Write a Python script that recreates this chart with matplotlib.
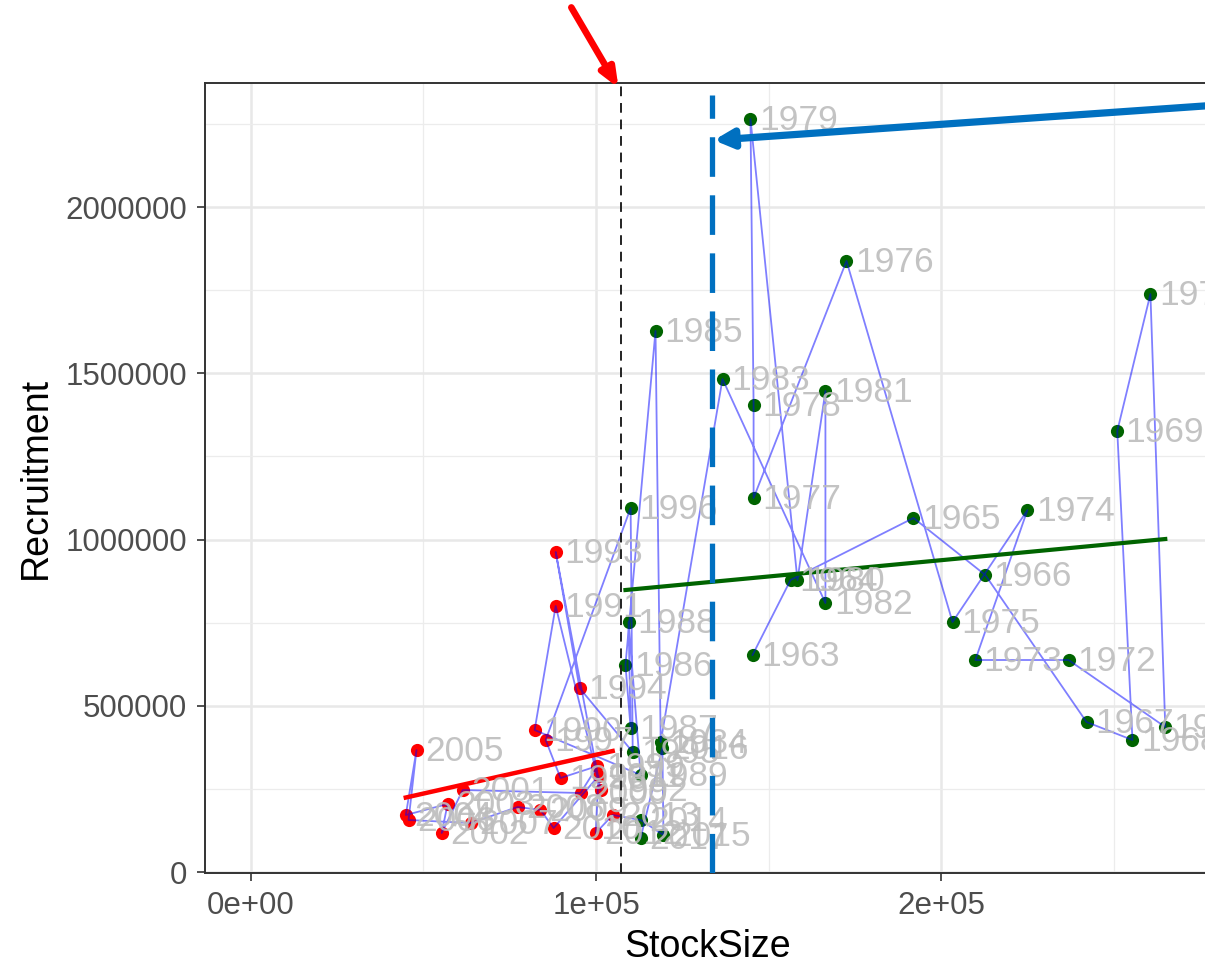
import numpy as np
import matplotlib.pyplot as plt
from matplotlib.ticker import FixedLocator, FuncFormatter

plt.rcParams['font.family'] = ['Liberation Sans', 'DejaVu Sans']

#%% Data: stock size and recruitment per year
years = list(range(1963, 2018))
stock = [145300, 156300, 191900, 212700, 242000, 255300, 250900, 260500, 264800, 236800,
         209800, 224900, 203200, 172500, 145600, 145600, 144700, 158300, 166400, 166400,
         136600, 118700, 117200, 108500, 110000, 109400, 112900, 82200, 88300, 101300,
         88300, 95200, 110600, 110000, 85400, 89700, 100400, 95500, 61400, 55300,
         57000, 44900, 48000, 45700, 63700, 77300, 83900, 87700, 100700, 99900,
         104800, 112900, 119500, 119200, 112900]
recruit = [652600, 878200, 1064700, 893200, 451100, 397000, 1326300, 1738300, 436100, 637600,
           637600, 1088700, 751900, 1837600, 1124800, 1404500, 2264600, 878200, 1446600, 809000,
           1482700, 391000, 1627100, 622600, 433100, 751900, 291700, 427100, 800000, 246600,
           962400, 553400, 360900, 1094700, 397000, 282700, 318800, 237600, 246600, 117300,
           204500, 171400, 366900, 156400, 147400, 195500, 186500, 132300, 288700, 117300,
           171400, 156400, 111300, 372900, 102300]

# reference points and fitted lines (intercept, slope)
blim = 107100
bpa = 133700
fit_low = (119100, 2.336)
fit_high = (741600, 0.9815)

stock = np.array(stock)
recruit = np.array(recruit)
high = stock > blim
low = ~high

#%% Figure
fig = plt.figure(figsize=(12.05, 9.69), dpi=100)
ax = fig.add_axes([205 / 1205, 96 / 969, 1006 / 1205, 790 / 969])

ax.set_xlim(-13240, 278040)
ax.set_ylim(-3000, 2373000)

ax.xaxis.set_major_locator(FixedLocator([0, 1e5, 2e5, 3e5]))
ax.xaxis.set_minor_locator(FixedLocator([5e4, 1.5e5, 2.5e5]))
ax.yaxis.set_major_locator(FixedLocator([0, 5e5, 1e6, 1.5e6, 2e6]))
ax.yaxis.set_minor_locator(FixedLocator([2.5e5, 7.5e5, 1.25e6, 1.75e6, 2.25e6]))
ax.xaxis.set_major_formatter(FuncFormatter(lambda v, p: '%.0e' % v if v else '0e+00'))
ax.yaxis.set_major_formatter(FuncFormatter(lambda v, p: '%d' % v))

ax.grid(which='major', color='#e8e8e8', lw=1.8, zorder=0)
ax.grid(which='minor', color='#ececec', lw=0.9, zorder=0)
ax.set_axisbelow(True)
for s in ax.spines.values():
    s.set_color('#333333')
    s.set_linewidth(1.4)
ax.tick_params(which='major', length=6, width=1.2, color='#333333',
               labelcolor='#4d4d4d', labelsize=22.5, pad=7)
ax.tick_params(which='minor', length=0)

# points, path, fits, labels
ax.scatter(stock[low], recruit[low], s=90, color='red', zorder=2, linewidths=0)
ax.scatter(stock[high], recruit[high], s=90, color='#006400', zorder=2, linewidths=0)
ax.plot(stock, recruit, color='blue', alpha=0.5, lw=1.3, zorder=3)

xl = np.array([stock[low].min(), stock[low].max()])
ax.plot(xl, fit_low[0] + fit_low[1] * xl, color='red', lw=3.2, zorder=4)
xh = np.array([stock[high].min(), stock[high].max()])
ax.plot(xh, fit_high[0] + fit_high[1] * xh, color='#006400', lw=3.0, zorder=4)

for yr, xv, yv in zip(years, stock, recruit):
    ax.annotate(str(yr), (xv, yv), xytext=(6, -1), textcoords='offset points',
                ha='left', va='center', fontsize=25.5, color='#bdbdbd', alpha=0.9,
                zorder=5)

ax.axvline(blim, color='#222222', lw=1.4, ls=(0, (5, 3.5)), zorder=6)
ax.axvline(bpa, color='#0070c0', lw=3.8, ls=(0, (7.5, 3.5)), zorder=6,
           ymin=0, ymax=0.985)

ax.set_xlabel('StockSize', fontsize=27, labelpad=6)
ax.set_ylabel('Recruitment', fontsize=27, labelpad=8)

# highlight arrows
ax.annotate('', xy=(blim - 600, 2358000), xytext=(-34, 58), textcoords='offset points',
            arrowprops=dict(arrowstyle='-|>,head_length=1.1,head_width=0.45',
                            color='red', lw=4.8, shrinkA=0, shrinkB=0),
            annotation_clip=False, zorder=7)
ax.annotate('', xy=(bpa + 400, 2201000), xytext=(430, 30), textcoords='offset points',
            arrowprops=dict(arrowstyle='-|>,head_length=1.1,head_width=0.55',
                            color='#0070c0', lw=5.2, shrinkA=0, shrinkB=0),
            annotation_clip=False, zorder=7)

plt.savefig('out.png', dpi=100)
